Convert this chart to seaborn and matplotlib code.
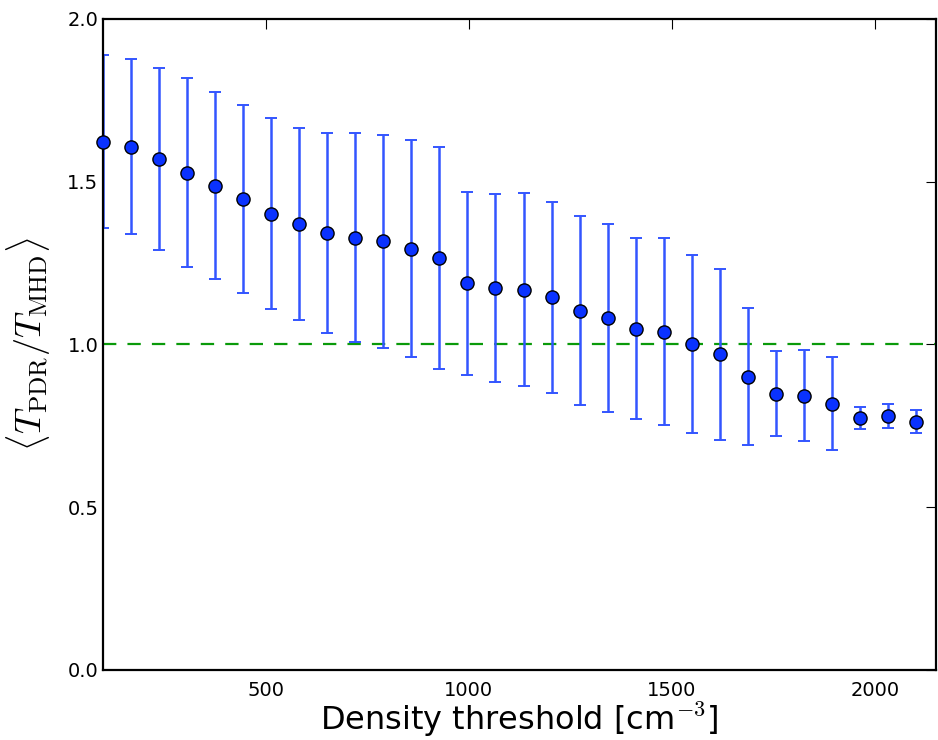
import numpy as np
import pandas as pd
import matplotlib
matplotlib.use("Agg")
import matplotlib.pyplot as plt
import seaborn as sns

# Data
density = [100.0, 169.0, 237.9, 306.9, 375.9, 444.8, 513.8, 582.8, 651.7, 720.7,
           789.7, 858.6, 927.6, 996.6, 1065.5, 1134.5, 1203.4, 1272.4, 1341.4, 1410.3,
           1479.3, 1548.3, 1617.2, 1686.2, 1755.2, 1824.1, 1893.1, 1962.1, 2031.0, 2100.0]
ratio_mean = [1.623, 1.607, 1.569, 1.527, 1.488, 1.447, 1.402, 1.370, 1.342, 1.328,
              1.317, 1.294, 1.265, 1.188, 1.173, 1.168, 1.145, 1.103, 1.080, 1.048,
              1.039, 1.001, 0.969, 0.901, 0.849, 0.843, 0.818, 0.774, 0.780, 0.763]
ratio_err = [0.267, 0.269, 0.280, 0.290, 0.288, 0.289, 0.293, 0.296, 0.307, 0.321,
             0.327, 0.334, 0.341, 0.281, 0.289, 0.296, 0.293, 0.290, 0.289, 0.278,
             0.288, 0.273, 0.262, 0.210, 0.130, 0.139, 0.143, 0.034, 0.037, 0.036]
x_ticks = [500, 1000, 1500, 2000]
y_ticks = [0.0, 0.5, 1.0, 1.5, 2.0]

df = pd.DataFrame({"density": density, "ratio": ratio_mean, "err": ratio_err})

sns.set_style("white")
plt.rcParams['font.family'] = ['DejaVu Sans']
plt.rcParams['mathtext.fontset'] = 'cm'
plt.rcParams['text.color'] = 'black'
plt.rcParams['axes.labelcolor'] = 'black'

fig = plt.figure(figsize=(9.38, 7.40), dpi=100)
ax = fig.add_axes([0.110, 0.0946, 0.888, 0.880])

ax.axhline(1.0, color='#0a9a0a', linestyle=(0, (6, 5)), linewidth=1.6, zorder=1)

ax.errorbar(df["density"], df["ratio"], yerr=df["err"], fmt='none',
            ecolor='#3355ff', elinewidth=1.8, capsize=4.5, capthick=1.4, zorder=2)
sns.scatterplot(data=df, x="density", y="ratio", ax=ax, s=90, color='#0a32ff',
                edgecolor='black', linewidth=1.0, zorder=3, clip_on=False)

ax.set_xlim(100, 2150)
ax.set_ylim(0, 2.0)
ax.set_xticks(x_ticks)
ax.set_yticks(y_ticks)
ax.set_yticklabels([f"{v:.1f}" for v in y_ticks])
ax.tick_params(direction='in', length=7, width=0.8, top=True, right=True,
               labelsize=14, colors='black')
ax.tick_params(axis='x', pad=8)
for sp in ax.spines.values():
    sp.set_color('black')
    sp.set_linewidth(1.6)

ax.set_xlabel(r"Density threshold [cm$^{-3}$]", fontsize=23, labelpad=0, color='black')
ax.set_ylabel(r"$\langle T_{\rm PDR}/T_{\rm MHD}\rangle$", fontsize=26, labelpad=10, color='black')

fig.savefig("out.png", dpi=100)
